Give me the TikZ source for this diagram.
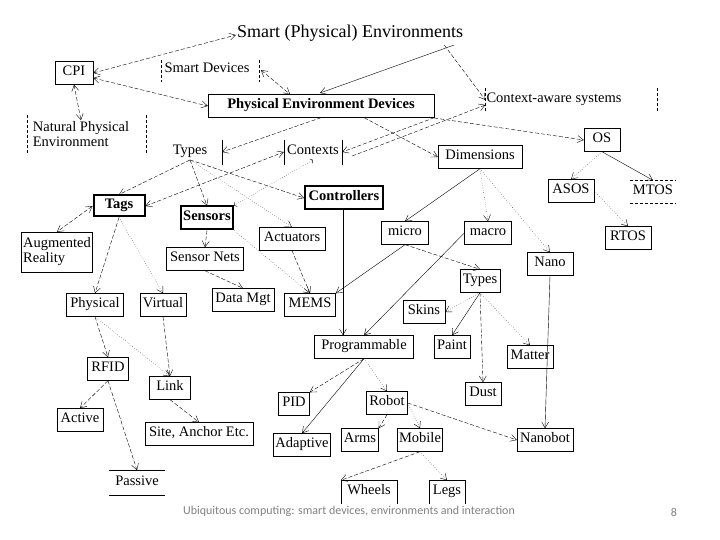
\documentclass[tikz,border=0pt]{standalone}
\usepackage{fontspec}
\setmainfont{Liberation Serif}
\newfontfamily\footfont{Carlito}
\usetikzlibrary{arrows.meta}
\begin{document}
\begin{tikzpicture}[x=1pt,y=-1pt,
  every node/.style={font=\fontsize{14.5}{15}\selectfont, inner sep=1pt, text height=9pt, text depth=4.5pt},
  box/.style={draw, minimum height=23pt, align=left},
  tbox/.style={box, line width=2pt, font=\fontsize{14.5}{15}\selectfont\bfseries},
  plain/.style={align=left},
  ar/.style={-{Straight Barb[length=6pt,width=7pt]}, dashed, dash pattern=on 4pt off 2pt, thin},
  dar/.style={{Straight Barb[length=6pt,width=7pt]}-{Straight Barb[length=6pt,width=7pt]}, dashed, dash pattern=on 4pt off 2pt, thin},
  dot/.style={-{Straight Barb[length=6pt,width=7pt]}, dotted, thin},
  sar/.style={-{Straight Barb[length=6pt,width=7pt]}, thin},
  dl/.style={densely dashed, thin}]
\useasboundingbox (0,0) rectangle (720,540);
% top level
\node (env) at (350,35) {\fontsize{18}{19}\selectfont Smart (Physical) Environments};
\node[box, minimum width=38pt] (cpi) at (74,73) {CPI};
\node[plain] (sd) at (207,70) {Smart Devices};
\coordinate (sdr) at (261,70);
\draw[dl] (161,60) -- (161,82) (259,60) -- (259,82);
\node[box, minimum width=226pt, font=\fontsize{14.5}{15}\selectfont\bfseries] (ped) at (321,106) {Physical Environment Devices};
\node[plain, align=left, text height=, text depth=] (npe) at (81,134) {Natural Physical\\Environment};
\draw[dl] (27,115) -- (27,155) (146,115) -- (146,155);
\node[plain] (cas) at (554,100) {Context-aware systems};
\draw[dl] (485,88) -- (485,112) (657,88) -- (657,112);
\node[plain] (types) at (190,152) {Types};
\draw (222,140) -- (222,165);
\node[plain, minimum width=58pt] (ctx) at (313,152) {Contexts};
\draw (284,140) -- (284,165) (342,140) -- (342,165);
\node[box, minimum width=84pt] (dim) at (480,157) {Dimensions};
\node[box, minimum width=36pt] (os) at (602,140) {OS};
\node[box, minimum width=46pt] (asos) at (571,191) {ASOS};
\node[minimum width=46pt, minimum height=23pt] (mtos) at (653,192) {MTOS};
\draw[dl] (mtos.north west) -- (mtos.north east) (mtos.south west) -- (mtos.south east);
\node[box, minimum width=46pt] (rtos) at (628,238) {RTOS};
% second level
\node[tbox, minimum width=51pt, minimum height=21pt] (tags) at (119,206) {Tags};
\node[tbox, minimum width=52pt] (sens) at (207,218) {Sensors};
\node[tbox, minimum width=78pt] (ctrl) at (344,198) {Controllers};
\node[box, minimum width=71pt, minimum height=40pt, text height=, text depth=] (ar) at (57,252) {Augmented\\Reality};
\node[box, minimum width=77pt] (snet) at (205,259) {Sensor Nets};
\node[box, minimum width=66pt] (act) at (292,239) {Actuators};
\node[box, minimum width=47pt] (micro) at (405,233) {micro};
\node[box, minimum width=47pt] (macro) at (488,233) {macro};
\node[box, minimum width=46pt] (nano) at (550,264) {Nano};
\node[box, minimum width=40pt] (types2) at (480,281) {Types};
\node[box, minimum width=57pt] (phys) at (95,305) {Physical};
\node[box, minimum width=46pt] (virt) at (163,305) {Virtual};
\node[box, minimum width=62pt] (dmgt) at (243,300) {Data Mgt};
\node[box, minimum width=51pt] (mems) at (310,305) {MEMS};
\node[box, minimum width=42pt] (skins) at (424,312) {Skins};
\node[box, minimum width=99pt] (prog) at (364,347) {Programmable};
\node[box, minimum width=36pt] (paint) at (452,347) {Paint};
\node[box, minimum width=46pt] (matter) at (530,357) {Matter};
\node[box, minimum width=41pt] (rfid) at (108,369) {RFID};
\node[box, minimum width=41pt] (link) at (170,388) {Link};
\node[box, minimum width=46pt] (active) at (80,420) {Active};
\node[box, minimum width=108pt] (site) at (199,434) {Site, Anchor Etc.};
\node[box, minimum width=31pt] (pid) at (294,404) {PID};
\node[box, minimum width=41pt] (robot) at (387,403) {Robot};
\node[box, minimum width=36pt] (dust) at (483,394) {Dust};
\node[box, minimum width=57pt] (adapt) at (302,445) {Adaptive};
\node[box, minimum width=37pt] (arms) at (360,440) {Arms};
\node[box, minimum width=45pt] (mobile) at (420,440) {Mobile};
\node[box, minimum width=56pt] (nbot) at (545,440) {Nanobot};
\node[minimum width=56pt, minimum height=25pt] (passive) at (137,483) {Passive};
\draw (passive.north west) -- (passive.north east);
\draw[thick] (passive.south west) -- (passive.south east);
\node[minimum width=56pt, minimum height=23pt] (wheels) at (369,492) {Wheels};
\draw (wheels.south west) -- (wheels.north west) -- (wheels.north east) -- (wheels.south east);
\node[minimum width=36pt, minimum height=23pt] (legs) at (447,492) {Legs};
\draw (legs.south west) -- (legs.north west) -- (legs.north east) -- (legs.south east);
% footer
\node[font=\footfont\fontsize{12}{13}\selectfont, text=gray] (foot) at (349,512) {Ubiquitous computing: smart devices, environments and interaction};
\node[font=\footfont\fontsize{12}{13}\selectfont, text=gray] (pg) at (674,514) {8};
% edges
\draw[dar] (cpi.east) -- (env.west);
\draw[dar] (cpi.north east |- 0,78) -- (ped.west);
\draw[dar] (cpi.south) -- (npe.north);
\draw[dar] (sdr) -- (ped.north -| 290,0);
\draw[sar] (env.south east |- 0,45) ++(-10,0) -- (320,93);
\draw[ar] (env.south east |- 0,45) ++(-20,0) -- (cas.west);
\draw[ar] (ped.south) -- (types.east -| 222,0);
\draw[ar] (ped.south east) -- (ctx.east);
\draw[ar] (ped.east |- 0,118) -- (os.west);
\draw[ar] (ped.south east) ++(-70,0) -- (dim.west);
\draw[ar] (ctx.east) ++(10,4) -- (cas.west |- 0,105);
\draw[ar] (types.south) -- (tags.north);
\draw[ar] (types.south) -- (sens.north);
\draw[ar] (types.south) -- (ctrl.west);
\draw[dot] (types.south) -- (act.north);
\draw[dar] (tags.east) -- (ctx.west);
\draw[dot, <->] (sens.north east) -- (ctx.south);
\draw[dar] (tags.west) -- (ar.north);
\draw[ar] (tags.south) -- (phys.north);
\draw[dot] (tags.south) -- (virt.north);
\draw[ar] (sens.south) -- (snet.north);
\draw[dot] (sens.south east) -- (mems.north);
\draw[ar] (snet.south) -- (dmgt.north);
\draw[ar] (act.south) -- (mems.north);
\draw[sar] (ctrl.south -| 343,0) -- (prog.north -| 343,0);
\draw[sar] (micro.south) -- (mems.north east);
\draw[ar] (micro.south) -- (types2.north);
\draw[sar] (macro.west) -- (prog.north);
\draw[sar] (dim.south) -- (micro.north);
\draw[dot] (dim.south) -- (macro.north);
\draw[dot] (dim.south) -- (nano.north);
\draw[dot] (os.south) -- (asos.north);
\draw[sar] (os.south) -- (mtos.north);
\draw[dot] (asos.east) -- (rtos.north);
\draw[sar] (nano.south) -- (nbot.north);
\draw[dot] (types2.south) -- (skins.east);
\draw[sar] (types2.south) -- (paint.north);
\draw[ar] (types2.south) -- (dust.north);
\draw[dot] (types2.south) -- (matter.north);
\draw[ar] (prog.south) -- (pid.north east);
\draw[sar] (prog.south) -- (adapt.north);
\draw[dot] (prog.south) -- (robot.north);
\draw[ar] (robot.south) -- (arms.north east);
\draw[dot] (robot.east) -- (mobile.north);
\draw[ar] (robot.east) -- (nbot.west);
\draw[ar] (mobile.south) -- (wheels.north west);
\draw[dot] (mobile.south) -- (legs.north);
\draw[ar] (phys.south) -- (rfid.north);
\draw[dot] (phys.south) -- (link.north);
\draw[ar] (virt.south) -- (link.north);
\draw[ar] (rfid.south) -- (active.north);
\draw[ar] (rfid.south) -- (passive.north);
\draw[ar] (link.south) -- (site.north);
\end{tikzpicture}
\end{document}
